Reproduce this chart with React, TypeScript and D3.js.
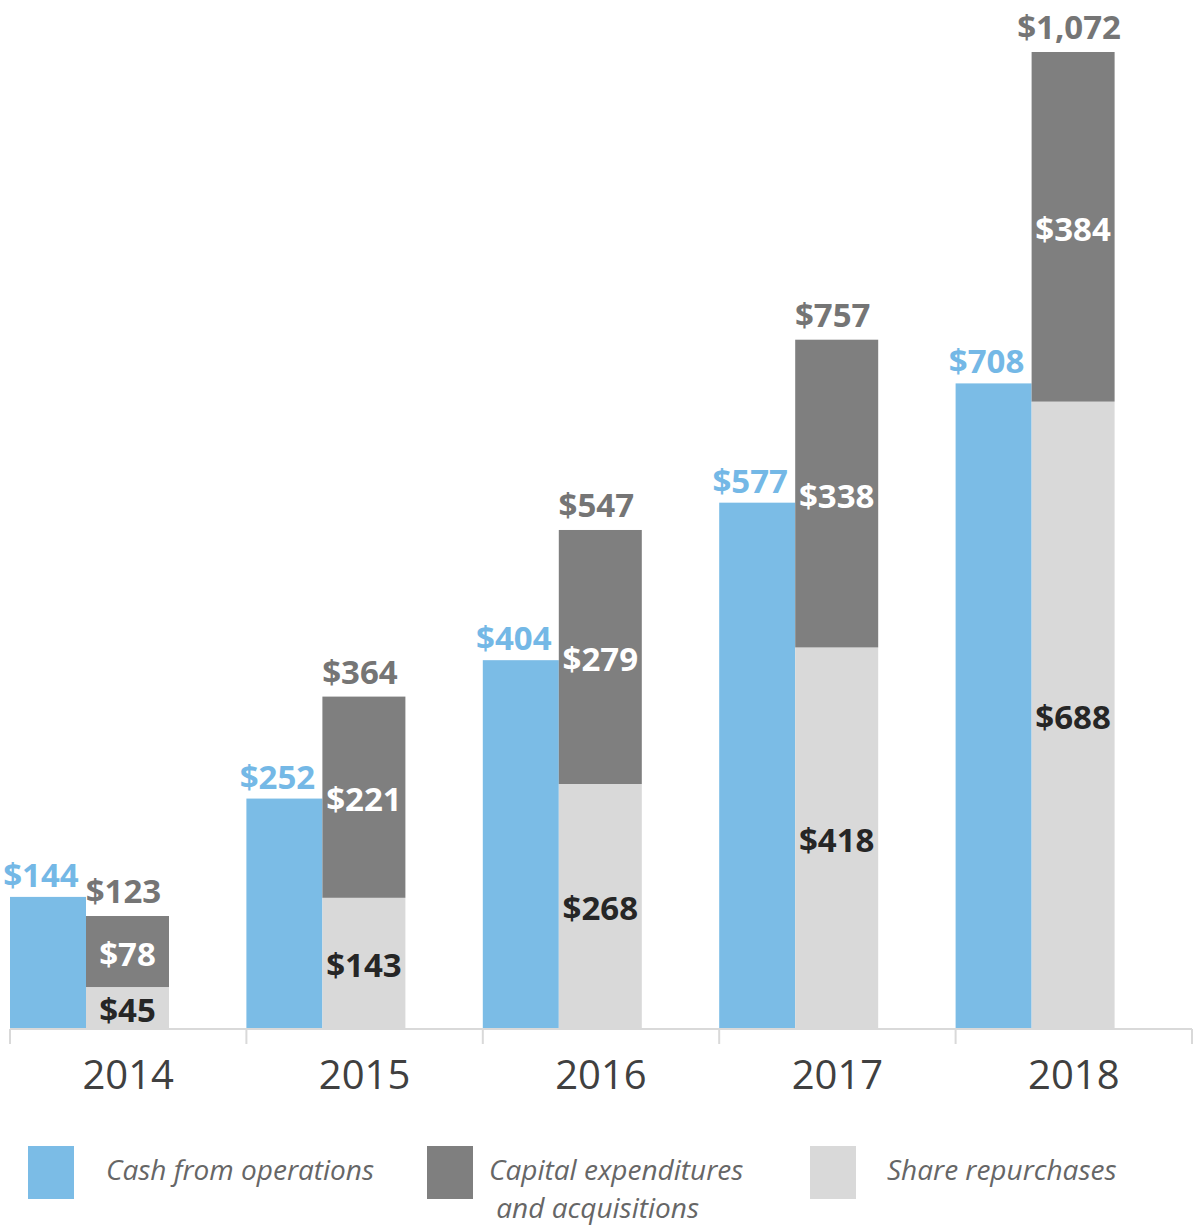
import React from "react";
import * as d3 from "d3";

const years = ["2014", "2015", "2016", "2017", "2018"];
const cashFromOps = [144, 252, 404, 577, 708];
const shareRepurchases = [45, 143, 268, 418, 688];
const capexAcq = [78, 221, 279, 338, 384];
const totalLabels = [123, 364, 547, 757, 1072];

const legendItems = [
  { key: "cash", lines: ["Cash from operations"] },
  { key: "capex", lines: ["Capital expenditures", " and acquisitions"] },
  { key: "rep", lines: ["Share repurchases"] },
];

const COLORS: Record<string, string> = {
  cash: "#7bbce6",
  capex: "#7f7f7f",
  rep: "#d9d9d9",
};

const W = 1200;
const H = 1228;
const FONT = "'Open Sans', 'DejaVu Sans', sans-serif";

export default function App() {
  const x = d3.scaleBand<string>().domain(years).range([10, 1192]).paddingInner(0).paddingOuter(0);
  const y = d3.scaleLinear().domain([0, 1072]).range([1028, 52]);
  const blueW = 76;
  const grayW = 83;
  const fmt = (v: number) => "$" + d3.format(",")(v);

  const stackData = years.map((yr, i) => ({ year: yr, rep: shareRepurchases[i], capex: capexAcq[i] }));
  const stacked = d3.stack<any>().keys(["rep", "capex"])(stackData);

  const legendX = [28, 427, 810];
  const legendTextX = [106, 489, 887];

  return (
    <svg width={W} height={H} style={{ position: "absolute", left: 0, top: 0, background: "#fff" }} fontFamily={FONT}>
      {/* bars */}
      {years.map((yr, i) => (
        <rect key={"c" + yr} x={x(yr)!} y={y(cashFromOps[i])} width={blueW} height={y(0) - y(cashFromOps[i])} fill={COLORS.cash} />
      ))}
      {stacked.map((layer) =>
        layer.map((d, i) => (
          <rect
            key={layer.key + i}
            x={x(years[i])! + blueW}
            y={y(d[1])}
            width={grayW}
            height={y(d[0]) - y(d[1])}
            fill={COLORS[layer.key]}
          />
        ))
      )}
      {/* axis */}
      <line x1={10} x2={1192} y1={1029} y2={1029} stroke="#d9d9d9" strokeWidth={2} />
      {[...years.map((yr) => x(yr)!), 1192].map((tx, i) => (
        <line key={"t" + i} x1={tx} x2={tx} y1={1029} y2={1044} stroke="#d9d9d9" strokeWidth={2} />
      ))}
      {years.map((yr) => (
        <text key={"y" + yr} x={x(yr)! + x.bandwidth() / 2} y={1089} textAnchor="middle" fontSize={40} fill="#404040">
          {yr}
        </text>
      ))}
      {/* cash labels */}
      {years.map((yr, i) => (
        <text
          key={"cl" + yr}
          x={x(yr)! + blueW / 2 - 7}
          y={y(cashFromOps[i]) - 10}
          textAnchor="middle"
          fontSize={33}
          fontWeight={700}
          fill="#74b8e6"
        >
          {fmt(cashFromOps[i])}
        </text>
      ))}
      {/* total labels */}
      {years.map((yr, i) => (
        <text
          key={"tl" + yr}
          x={x(yr)! + blueW + grayW / 2 - 4}
          y={y(shareRepurchases[i] + capexAcq[i]) - 13}
          textAnchor="middle"
          fontSize={33}
          fontWeight={700}
          fill="#757575"
        >
          {fmt(totalLabels[i])}
        </text>
      ))}
      {/* inner labels */}
      {stacked.map((layer) =>
        layer.map((d, i) => (
          <text
            key={"il" + layer.key + i}
            x={x(years[i])! + blueW + grayW / 2}
            y={(y(d[0]) + y(d[1])) / 2 + 14}
            textAnchor="middle"
            fontSize={33}
            fontWeight={700}
            fill={layer.key === "capex" ? "#ffffff" : "#262626"}
          >
            {fmt(d[1] - d[0])}
          </text>
        ))
      )}
      {/* legend */}
      {legendItems.map((it, i) => (
        <g key={it.key}>
          <rect x={legendX[i]} y={1146} width={46} height={53} fill={COLORS[it.key]} />
          {it.lines.map((ln, j) => (
            <text
              key={j}
              x={legendTextX[i]}
              y={1180 + j * 38}
              fontSize={28}
              fontStyle="italic"
              fill="#666666"
              style={{ whiteSpace: "pre" }}
            >
              {ln}
            </text>
          ))}
        </g>
      ))}
    </svg>
  );
}
